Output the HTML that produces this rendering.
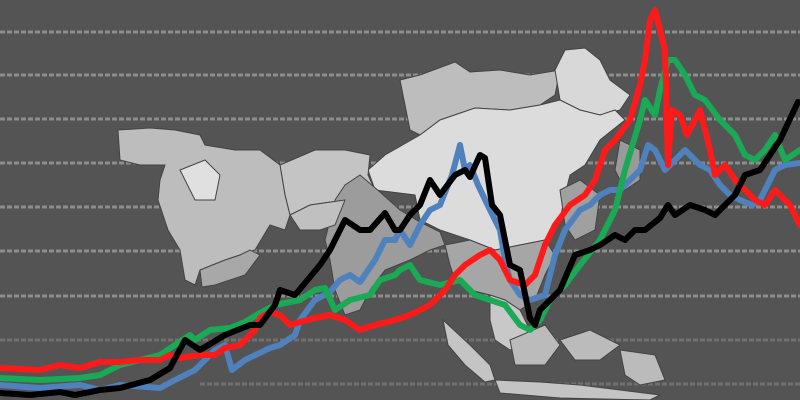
<!DOCTYPE html>
<html><head><meta charset="utf-8"><style>html,body{margin:0;padding:0;background:#545454;}svg{display:block}</style></head>
<body>
<svg width="800" height="400" viewBox="0 0 800 400" xmlns="http://www.w3.org/2000/svg">
<rect width="800" height="400" fill="#545454"/>
<g stroke="#a0a0a0" stroke-width="3" stroke-dasharray="5 2" opacity="0.75">
<line x1="0" y1="32" x2="800" y2="32"/>
<line x1="0" y1="75" x2="800" y2="75"/>
<line x1="0" y1="119" x2="800" y2="119"/>
<line x1="0" y1="163" x2="800" y2="163"/>
<line x1="0" y1="207" x2="800" y2="207"/>
<line x1="0" y1="251" x2="800" y2="251"/>
<line x1="0" y1="296" x2="800" y2="296"/>
<line x1="0" y1="340" x2="800" y2="340" opacity="0.5"/>
<line x1="200" y1="384" x2="800" y2="384" opacity="0.5"/>
</g>
<g stroke="#444" stroke-width="1">
<!-- Russia/Mongolia band -->
<polygon fill="#bdbdbd" points="400,80 420,75 455,62 470,72 500,70 530,75 560,70 555,95 540,105 510,110 475,108 440,120 420,135 410,130 405,105"/>
<polygon fill="#d8d8d8" points="555,70 565,50 585,48 600,60 610,80 630,95 620,110 600,115 580,110 560,100"/>
<!-- China -->
<polygon fill="#dcdcdc" points="420,135 440,120 475,108 510,110 540,105 560,100 580,110 600,115 615,110 625,120 600,140 585,165 570,175 565,195 560,220 545,240 520,245 495,250 470,240 440,230 420,220 415,195 375,190 368,170 385,155"/>
<!-- Central Asia -->
<polygon fill="#c4c4c4" points="280,165 315,150 345,150 370,155 368,175 375,190 345,200 310,205 290,215 285,195"/>
<!-- Middle East -->
<polygon fill="#bdbdbd" points="118,130 150,128 175,130 200,135 205,145 235,150 260,150 280,165 285,195 290,215 285,230 270,225 255,250 240,255 225,260 200,270 195,285 185,280 180,250 168,230 158,200 160,180 165,165 140,165 120,160"/>
<polygon fill="#e0e0e0" points="180,170 205,160 220,175 215,200 195,200"/>
<polygon fill="#a8a8a8" points="200,270 225,260 240,255 250,250 260,255 245,275 215,285 202,287"/>
<!-- India -->
<polygon fill="#9c9c9c" points="335,200 345,185 360,175 380,192 400,210 420,222 440,232 445,245 430,250 410,260 385,270 370,290 360,310 345,315 335,290 330,260 325,240"/>
<polygon fill="#c0c0c0" points="290,215 310,205 345,200 335,225 320,230 300,230"/>
<!-- SE Asia -->
<polygon fill="#a6a6a6" points="445,245 470,240 495,250 520,245 545,240 555,255 545,275 535,300 520,310 505,300 490,295 470,290 455,280 450,265"/>
<polygon fill="#c8c8c8" points="490,295 505,300 520,310 530,330 525,345 510,350 495,340 490,320"/>
<!-- Indonesia -->
<polygon fill="#c4c4c4" points="443,320 470,345 490,365 495,380 485,382 465,365 448,345"/>
<polygon fill="#c4c4c4" points="495,380 540,382 580,385 620,390 660,395 650,400 560,398 500,393"/>
<polygon fill="#bbbbbb" points="510,340 545,325 560,345 545,365 515,365"/>
<polygon fill="#bbbbbb" points="560,340 590,330 620,345 600,360 575,360"/>
<polygon fill="#bbbbbb" points="620,350 655,355 665,380 640,385 625,375"/>
<polygon fill="#a0a0a0" points="560,190 580,180 600,195 595,230 575,240 565,225"/>
<polygon fill="#9a9a9a" points="620,140 640,150 640,180 625,190 615,170"/>
</g>
<g fill="none" stroke-width="6" stroke-linejoin="round" stroke-linecap="round">
<polyline stroke="#4f81bd" points="0,385 40,388 80,385 100,390 120,385 160,388 175,380 195,370 205,360 215,350 225,345 232,370 245,360 270,348 280,345 295,335 300,320 315,300 330,292 340,280 350,275 360,282 375,260 385,240 395,240 400,230 410,245 420,225 430,210 440,205 452,175 460,145 465,170 470,165 478,185 490,210 500,230 505,260 510,280 520,295 530,300 545,295 555,255 565,230 580,210 590,205 600,195 610,190 620,190 630,180 640,170 648,145 655,150 665,170 675,160 685,150 700,165 710,170 720,185 730,195 740,200 752,205 760,200 775,170 785,165 800,163"/>
<polyline stroke="#1aaa55" points="0,378 40,380 80,378 100,375 120,365 140,360 160,355 175,345 190,335 195,340 210,330 230,328 245,322 260,313 275,305 300,300 315,290 325,288 335,310 350,300 370,295 380,280 395,275 400,270 410,265 420,280 440,285 460,280 475,295 490,300 505,305 520,325 530,330 540,320 550,300 565,285 580,265 600,240 615,210 625,170 640,120 645,100 655,115 660,90 668,60 675,60 685,75 695,95 705,100 720,120 735,135 745,155 755,160 765,150 775,135 785,160 800,150"/>
<polyline stroke="#ff1a1a" points="0,368 40,370 60,365 80,368 100,362 120,362 140,360 160,360 170,355 180,358 200,355 215,355 225,348 240,345 255,330 260,318 270,312 280,315 290,325 300,322 315,318 330,315 345,320 360,330 375,325 395,320 410,315 420,310 430,305 445,290 455,275 465,265 480,255 490,250 500,260 510,280 525,285 535,275 545,245 555,225 570,205 585,195 595,180 605,150 615,140 630,120 640,85 645,60 650,20 655,10 660,30 665,50 668,165 672,110 680,115 687,135 695,120 700,110 710,150 715,175 725,165 735,180 745,190 755,200 765,205 775,190 790,205 800,225"/>
<polyline stroke="#000" points="0,393 30,395 60,392 75,395 100,390 120,388 150,380 170,368 185,340 200,350 225,335 250,325 260,325 275,305 280,290 295,295 305,283 320,265 330,250 345,220 360,230 370,230 385,213 395,230 400,230 410,215 420,205 430,180 440,195 455,175 465,170 470,177 480,155 485,158 492,205 500,215 510,265 520,270 530,318 535,325 540,310 550,300 560,290 575,255 590,250 600,245 615,235 625,240 635,230 645,230 660,218 668,205 675,215 690,205 705,210 715,215 725,205 735,195 745,175 760,170 780,140 798,102"/>
</g>
</svg>
</body></html>
